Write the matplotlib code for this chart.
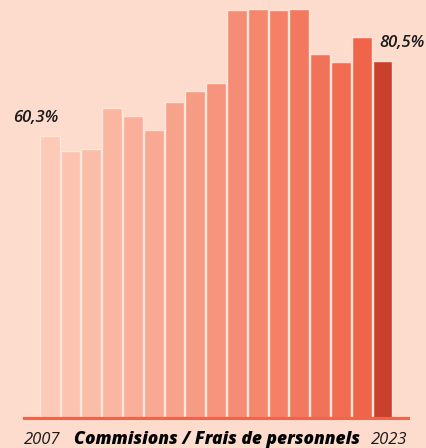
import matplotlib.pyplot as plt
import numpy as np
from matplotlib.colors import LinearSegmentedColormap

years = list(range(2007, 2024))
ratio = [60.3, 56.1, 56.7, 67.8, 65.7, 61.9, 69.4, 72.5, 74.5,
         94.2, 94.7, 94.2, 94.7, 82.5, 80.3, 87.1, 80.5]
first_label = "60,3%"
last_label = "80,5%"
title = "Commisions / Frais de personnels"

BG = "#fddccd"
BASE = -16

plt.rcParams['font.family'] = ['Open Sans', 'DejaVu Sans']

cmap = LinearSegmentedColormap.from_list("sal", ["#fccab7", "#f0654a"])
colors = [cmap(i / (len(years) - 2)) for i in range(len(years) - 1)] + ["#c9412c"]

fig = plt.figure(figsize=(4.27, 4.48), dpi=100, facecolor=BG)
ax = fig.add_axes([0, 30 / 448, 1, 418 / 448])
ax.set_facecolor(BG)

x = np.arange(len(years))
vals = np.array(ratio)
ax.bar(x, vals - BASE, bottom=BASE, width=0.95, color=colors,
       edgecolor="#fde6da", linewidth=1.0)

ax.set_xlim(-49.65 / 20.8, (427 - 49.65) / 20.8)
ax.set_ylim(BASE, BASE + 418 * 0.2704)
ax.axhline(BASE, xmin=24 / 427, xmax=408 / 427, color="#f0654a", lw=2.2, clip_on=False)
ax.axis("off")

ax.text(x[0] - 0.68, ratio[0] + 4.9, first_label, ha="center", va="center",
        fontsize=12, fontweight="semibold", fontstyle="italic", color="#1a1a1a")
ax.text(x[-1] + 0.92, ratio[-1] + 4.8, last_label, ha="center", va="center",
        fontsize=12, fontweight="semibold", fontstyle="italic", color="#1a1a1a")

fig.text(42 / 427, 4 / 448, str(years[0]), ha="center", va="baseline",
         fontsize=12, fontstyle="italic", color="#1a1a1a")
fig.text(389 / 427, 4 / 448, str(years[-1]), ha="center", va="baseline",
         fontsize=12, fontstyle="italic", color="#1a1a1a")
fig.text(217 / 427, 4 / 448, title, ha="center", va="baseline",
         fontsize=12.5, fontweight="heavy", fontstyle="italic", color="#000000")

fig.savefig("out.png", dpi=100, facecolor=BG)
